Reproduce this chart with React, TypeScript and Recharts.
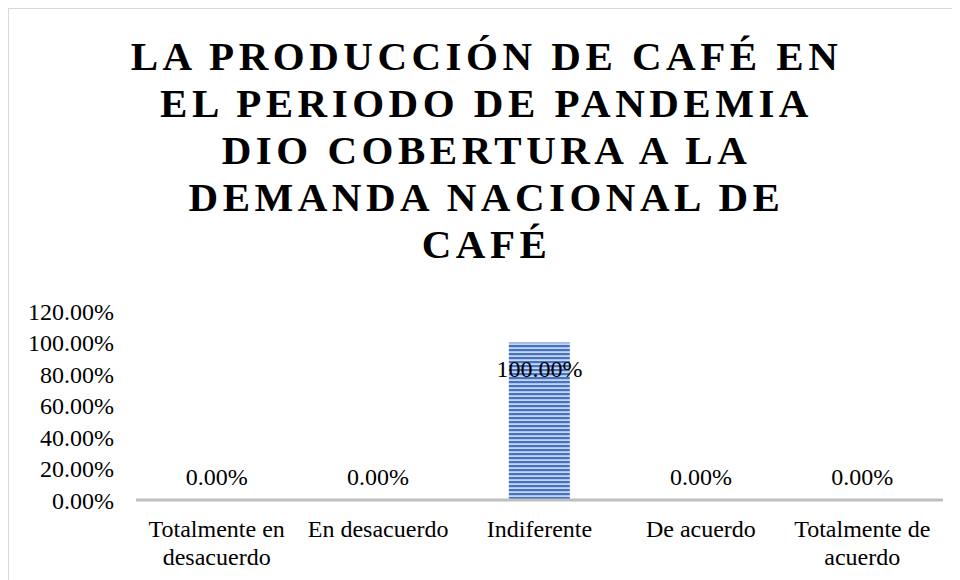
import React from "react";
import { ComposedChart, Bar, Line, XAxis, YAxis, LabelList } from "recharts";

const categories = [
  "Totalmente en desacuerdo",
  "En desacuerdo",
  "Indiferente",
  "De acuerdo",
  "Totalmente de acuerdo",
];
const categoryLines = [
  ["Totalmente en", "desacuerdo"],
  ["En desacuerdo"],
  ["Indiferente"],
  ["De acuerdo"],
  ["Totalmente de", "acuerdo"],
];
const values = [0, 0, 1, 0, 0];
const yTicks = [0, 0.2, 0.4, 0.6, 0.8, 1.0, 1.2];
const titleLines = [
  "LA PRODUCCIÓN DE CAFÉ EN",
  "EL PERIODO DE PANDEMIA",
  "DIO COBERTURA A LA",
  "DEMANDA NACIONAL DE",
  "CAFÉ",
];

const data = categories.map((c, i) => ({ name: c, value: values[i] }));

const FONT = "'Liberation Serif', 'Times New Roman', serif";
const pct = (v: number) => (v * 100).toFixed(2) + "%";

const XTick = (props: any) => {
  const { x, y, payload, index } = props;
  const idx = typeof index === "number" ? index : categories.indexOf(payload.value);
  const lines = categoryLines[idx] || [String(payload.value)];
  return (
    <text
      x={x}
      y={y + 29}
      textAnchor="middle"
      fontFamily={FONT}
      fontSize={24}
      fill="#000"
    >
      {lines.map((l, i) => (
        <tspan key={i} x={x} dy={i === 0 ? 0 : 28}>
          {l}
        </tspan>
      ))}
    </text>
  );
};

const PointLabel = (props: any) => {
  const { x, y, value } = props;
  const by = value > 0 ? y + 34 : y - 15;
  return (
    <text
      x={x}
      y={by}
      textAnchor="middle"
      fontFamily={FONT}
      fontSize={24}
      fill="#000"
    >
      {pct(value)}
    </text>
  );
};

export default function App() {
  return (
    <div
      style={{
        position: "relative",
        width: 952,
        height: 572,
        borderLeft: "1px solid #d9d9d9",
        borderTop: "1px solid #d9d9d9",
        boxSizing: "border-box",
        background: "#fff",
      }}
    >
      <div
        style={{
          position: "absolute",
          left: 0,
          top: 24,
          width: 955,
          textAlign: "center",
          fontFamily: FONT,
          fontWeight: "bold",
          fontSize: 41,
          letterSpacing: 4.5,
          lineHeight: "47px",
          color: "#000",
          whiteSpace: "nowrap",
        }}
      >
        {titleLines.map((l, i) => (
          <div key={i}>{l}</div>
        ))}
      </div>
      <ComposedChart
        width={951}
        height={571}
        data={data}
        margin={{ top: 302, right: 17, bottom: 20, left: 27 }}
        barCategoryGap="31%"
        style={{ overflow: "visible" }}
      >
        <defs>
          <pattern id="stripes" width="8" height="4" patternUnits="userSpaceOnUse">
            <rect x="0" y="0" width="8" height="4" fill="#c9d6ef" />
            <rect x="0" y="0" width="8" height="2.2" fill="#4472c4" />
          </pattern>
        </defs>
        <XAxis
          dataKey="name"
          height={60}
          tickLine={false}
          axisLine={{ stroke: "#bfbfbf", strokeWidth: 3 }}
          tick={<XTick />}
          interval={0}
        />
        <YAxis
          width={100}
          domain={[0, 1.2]}
          ticks={yTicks}
          interval={0}
          tickFormatter={pct}
          axisLine={false}
          tickLine={false}
          tickSize={0}
          tickMargin={22}
          tick={{ fontFamily: FONT, fontSize: 24, fill: "#000" }}
        />
        <Bar dataKey="value" fill="url(#stripes)" isAnimationActive={false} />
        <Line
          dataKey="value"
          stroke="none"
          dot={false}
          activeDot={false}
          legendType="none"
          isAnimationActive={false}
        >
          <LabelList dataKey="value" content={<PointLabel />} />
        </Line>
      </ComposedChart>
    </div>
  );
}
